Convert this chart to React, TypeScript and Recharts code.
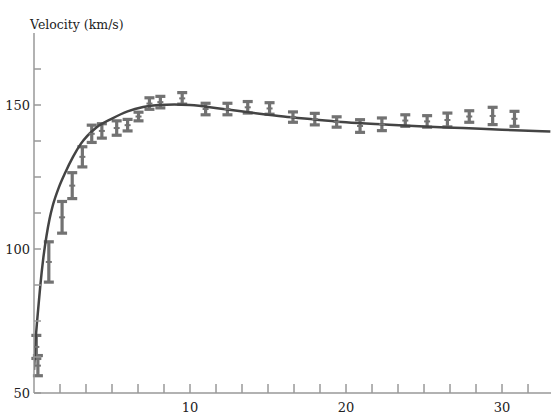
import { ComposedChart, Line, Scatter, ErrorBar, XAxis, YAxis } from 'recharts';

// measured points with error bars
const pointX = [0.15, 0.25, 0.95, 1.8, 2.45, 3.1, 3.7, 4.35, 5.3, 6.0, 6.7, 7.4, 8.1, 9.5, 11.0, 12.4, 13.7, 15.1, 16.6, 18.0, 19.4, 20.9, 22.3, 23.8, 25.2, 26.5, 27.9, 29.4, 30.8];
const pointV = [66, 59.5, 95.5, 111, 122, 132, 140, 141, 142, 143, 146, 150.5, 151, 152.3, 148.6, 148.6, 149.2, 148.8, 145.8, 145.1, 144.1, 142.7, 143.3, 144.6, 144.3, 144.8, 146, 146.2, 145.2];
const pointErr = [4, 3.5, 7, 5.5, 4.5, 3.5, 3, 2.5, 2.5, 2, 1.5, 2, 2, 2, 2, 2, 2, 2, 1.8, 2, 1.8, 2.2, 2.2, 2, 2, 2.4, 2, 3, 2.6];

// fitted curve
const curveX = [0, 0.05, 0.1, 0.2, 0.3, 0.4, 0.6, 0.8, 1.0, 1.2, 1.6, 2.0, 2.5, 3.0, 4.0, 5.0, 6.0, 7.0, 8.0, 9.0, 10.0, 12.0, 14.0, 16.0, 18.0, 20.0, 22.5, 25.0, 27.5, 30.0, 33.1];
const curveV = [58, 63, 68, 75, 81, 87, 97, 104.5, 110.5, 115, 121.5, 126.5, 132, 136.5, 142.2, 145.3, 147.8, 149.3, 150, 150.2, 150, 148.7, 147.3, 146, 145, 144, 143.2, 142.5, 142, 141.4, 140.8];

const xTicks = [1.667, 3.333, 5, 6.667, 8.333, 10, 11.667, 13.333, 15, 16.667, 18.333, 20, 21.667, 23.333, 25, 26.667, 28.333, 30, 31.667, 33.333];
const xLabels = [10, 20, 30];
const yTicks = [50, 62.5, 75, 87.5, 100, 112.5, 125, 137.5, 150, 162.5];
const yLabels = [50, 100, 150];

const points = pointX.map((x, i) => ({ x, v: pointV[i], err: pointErr[i] }));
const curve = curveX.map((x, i) => ({ x, v: curveV[i] }));

const font = "'DejaVu Serif', serif";

const YTick = (props: any) => {
  const { x, y, payload } = props;
  const show = yLabels.includes(payload.value);
  return (
    <g>
      <line x1={x + 4} y1={y} x2={x + 11} y2={y} stroke="#999" strokeWidth={1.5} />
      {show && (
        <text x={x} y={y} textAnchor="end" dominantBaseline="central" fill="#222" fontSize={13} style={{ fontFamily: font }}>
          {payload.value}
        </text>
      )}
    </g>
  );
};

const XTick = (props: any) => {
  const { x, y, payload } = props;
  const show = xLabels.some((v) => Math.abs(v - payload.value) < 0.01);
  return (
    <g>
      <line x1={x} y1={y} x2={x} y2={y - 9} stroke="#999" strokeWidth={1.5} />
      {show && (
        <text x={x} y={y + 19} textAnchor="middle" fill="#222" fontSize={13} style={{ fontFamily: font }}>
          {Math.round(payload.value)}
        </text>
      )}
    </g>
  );
};

const Marker = (props: any) => {
  const { cx, cy } = props;
  if (cx == null || cy == null) return null;
  return <line x1={cx - 3} y1={cy} x2={cx + 3} y2={cy} stroke="#727272" strokeWidth={2} />;
};

export default function App() {
  return (
    <div style={{ position: 'absolute', left: 0, top: 0, width: 551, height: 416, background: '#fff' }}>
      <div
        style={{
          position: 'absolute',
          left: 30,
          top: 16,
          fontFamily: font,
          fontSize: 12.5,
          lineHeight: '18px',
          color: '#222',
          whiteSpace: 'nowrap',
        }}
      >
        Velocity (km/s)
      </div>
      <ComposedChart width={551} height={416} margin={{ top: 33, right: 0, bottom: 0, left: 0 }}>
        <XAxis
          type="number"
          dataKey="x"
          domain={[0, 33.14]}
          ticks={xTicks}
          allowDataOverflow
          height={23}
          tickSize={0}
          tickMargin={0}
          tickLine={false}
          tick={<XTick />}
          axisLine={{ stroke: '#999', strokeWidth: 1.5 }}
          interval={0}
        />
        <YAxis
          type="number"
          domain={[50, 175]}
          ticks={yTicks}
          allowDataOverflow
          width={34}
          tickSize={0}
          tickMargin={4}
          tickLine={false}
          tick={<YTick />}
          axisLine={{ stroke: '#999', strokeWidth: 1.5 }}
          interval={0}
        />
        <Scatter data={points} dataKey="v" shape={<Marker />} isAnimationActive={false}>
          <ErrorBar dataKey="err" direction="y" width={5} strokeWidth={3.2} stroke="#727272" isAnimationActive={false} />
        </Scatter>
        <Line
          data={curve}
          dataKey="v"
          type="monotone"
          dot={false}
          stroke="#444"
          strokeWidth={2.5}
          isAnimationActive={false}
        />
      </ComposedChart>
    </div>
  );
}
